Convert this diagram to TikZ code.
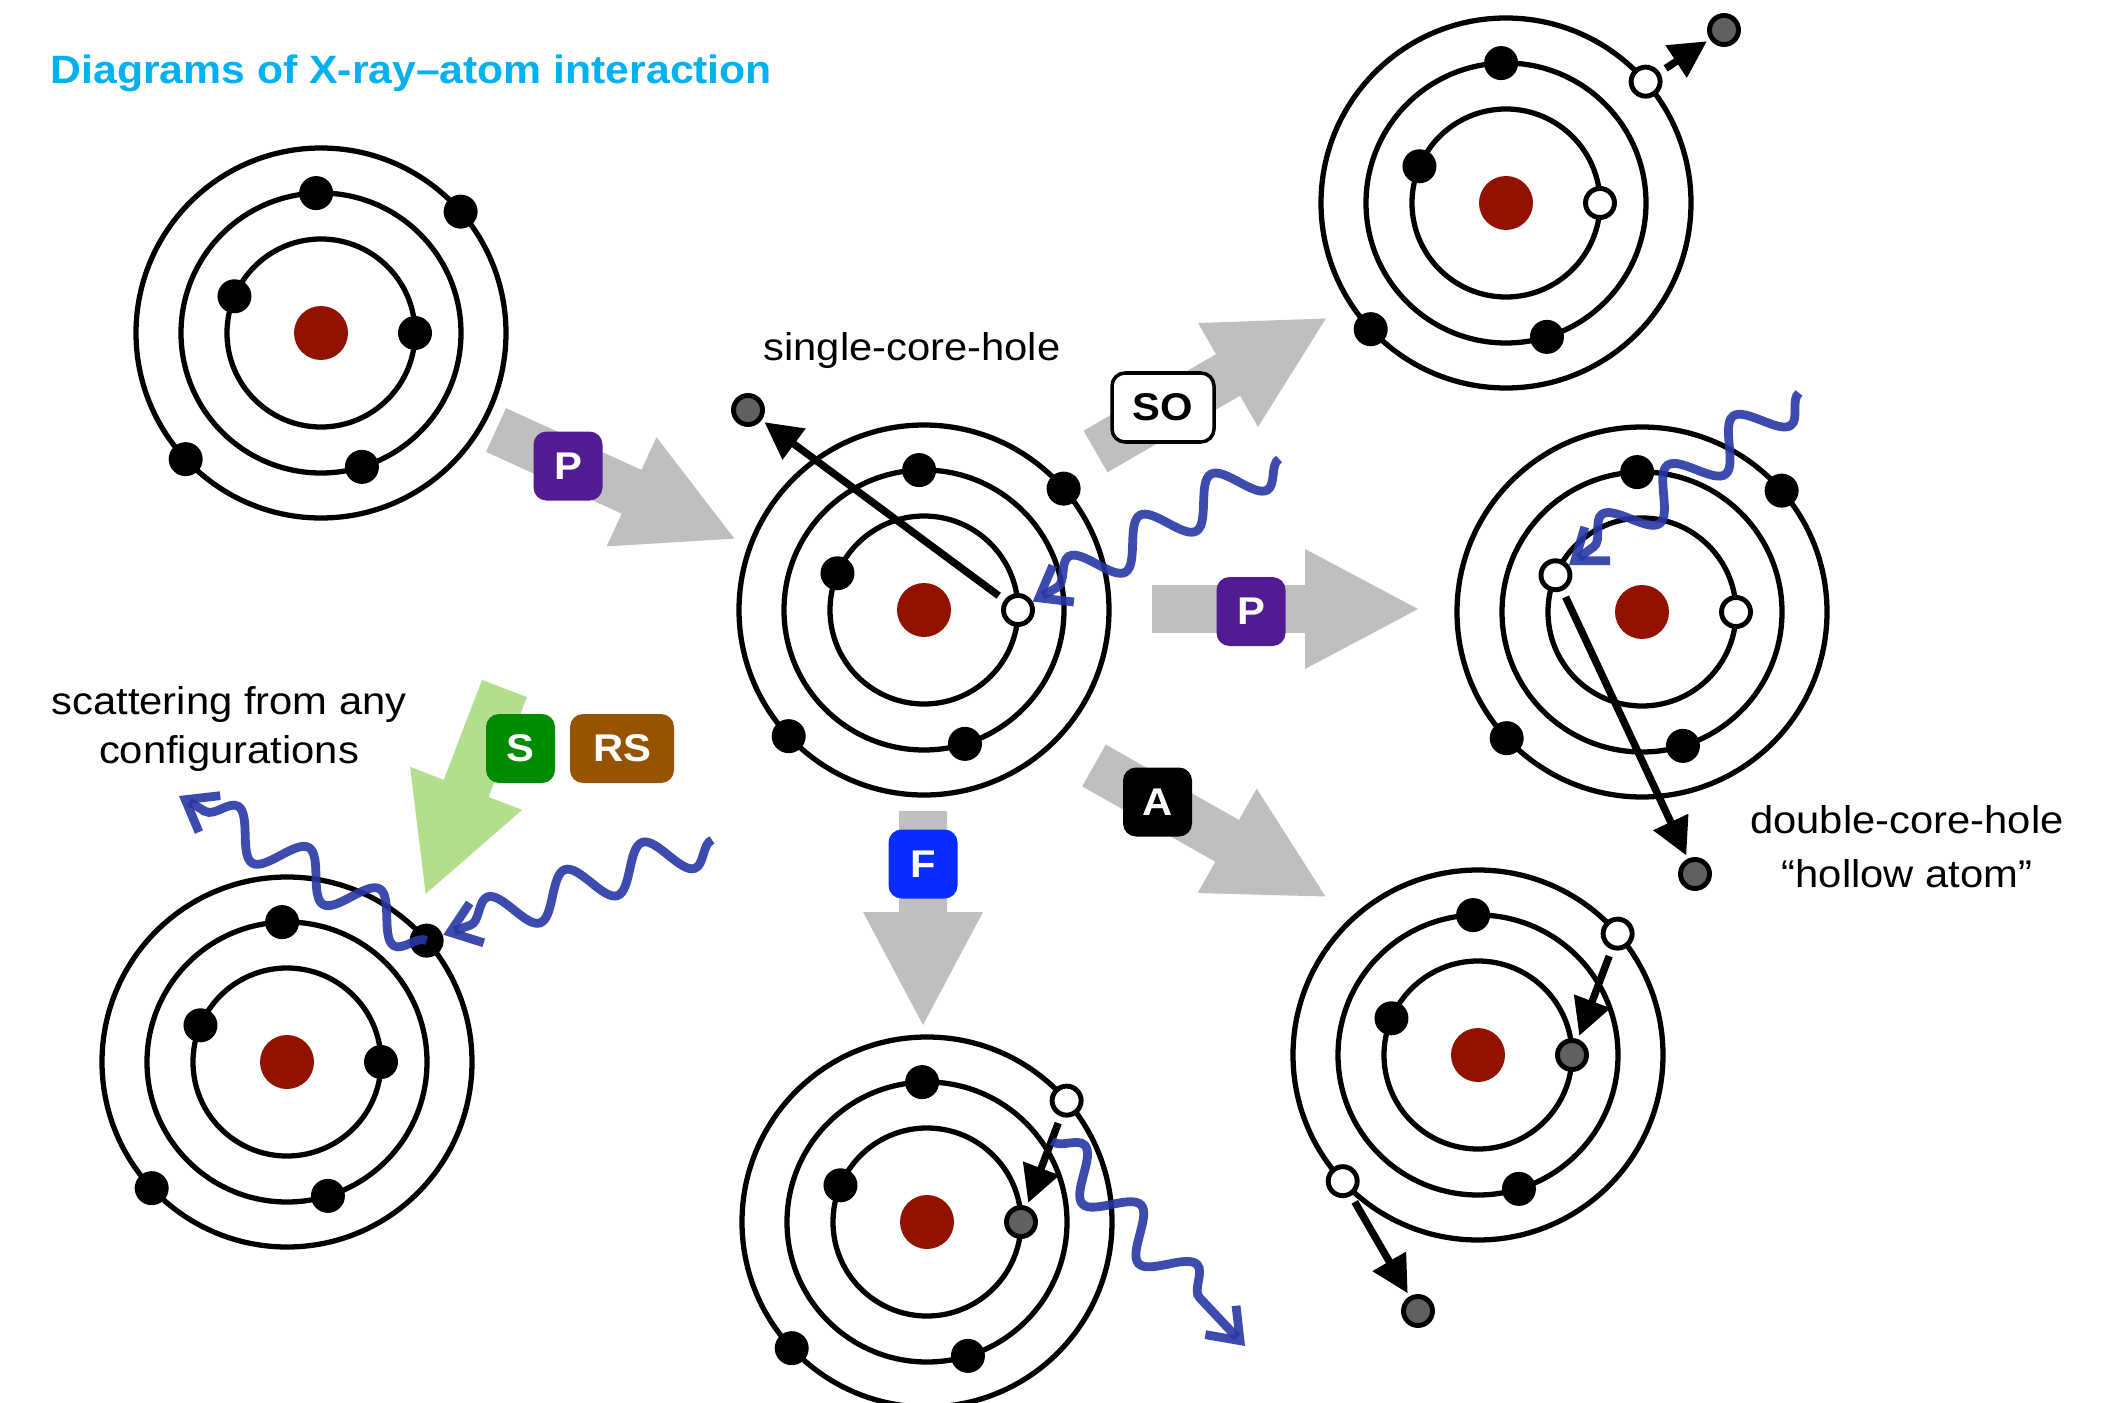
\documentclass[tikz,border=0pt]{standalone}
\usepackage{fontspec}
\setmainfont{Liberation Sans}[FakeStretch=1.08]
\usetikzlibrary{arrows.meta}
\usetikzlibrary{decorations.pathmorphing}
\definecolor{nucl}{RGB}{146,18,0}
\definecolor{photoncol}{RGB}{40,55,165}
\definecolor{titlecol}{RGB}{0,176,240}
\definecolor{arrgray}{RGB}{191,191,191}
\definecolor{arrgreen}{RGB}{178,222,142}
\definecolor{pcol}{RGB}{83,27,147}
\definecolor{fcol}{RGB}{8,44,255}
\definecolor{scol}{RGB}{0,140,0}
\definecolor{rscol}{RGB}{150,84,0}
\definecolor{elgray}{RGB}{96,96,96}
\def\picfont{\fontsize{11}{13.6}\selectfont}
% atom: name, centre, then the look of its six electrons
% (inner 0, inner 157, middle 92, middle -73, outer 41, outer -137)
\def\drawatom#1#2#3#4#5#6#7#8{%
 \begin{scope}[shift={#2}]
  \draw[orbit] (0,0) circle (0.94) (0,0) circle (1.40) (0,0) circle (1.85);
  \fill[nucleus] (0,0) circle (0.27);
  \node[#3] (#1-1) at (0:0.94) {};
  \node[#4] (#1-2) at (157:0.94) {};
  \node[#5] (#1-3) at (92:1.40) {};
  \node[#6] (#1-4) at (-73:1.40) {};
  \node[#7] (#1-5) at (41:1.85) {};
  \node[#8] (#1-6) at (-137:1.85) {};
 \end{scope}}
% block arrow: colour, start, angle, shaft length
\def\blockarrow#1#2#3#4{%
 \begin{scope}[shift={#2},rotate=#3]
  \fill[#1] (0,-0.24) -- (#4,-0.24) -- (#4,-0.60) -- (#4+1.13,0) -- (#4,0.60) -- (#4,0.24) -- (0,0.24) -- cycle;
 \end{scope}}
\tikzset{
	orbit/.style={line width=1.5pt},
	nucleus/.style={fill=nucl},
	elec/.style={circle,fill=black,inner sep=0pt,minimum size=3.4mm},
	hole/.style={circle,fill=white,draw=black,line width=1.4pt,inner sep=0pt,minimum size=2.9mm},
	grayel/.style={circle,fill=elgray,draw=black,line width=1.4pt,inner sep=0pt,minimum size=2.9mm},
	eject/.style={line width=2.1pt,-{Triangle[length=10.5pt,width=10.5pt]},shorten <=2pt,shorten >=1pt},
	photon/.style={photoncol,opacity=.9,line width=2.5pt,-{Straight Barb[length=8pt,width=12pt]},
		decorate,decoration={snake,amplitude=2.1mm,segment length=8.2mm,post length=2.5mm}},
	proc/.style={rounded corners=1.3mm,text=white,font=\picfont\bfseries,inner sep=0pt,
		minimum width=6.9mm,minimum height=6.9mm},
	labl/.style={align=center,font=\picfont},
}
\begin{document}
\begin{tikzpicture}
\useasboundingbox (0,0) rectangle (21.24,-14.03);

% process arrows
\blockarrow{arrgray}{(4.96,-4.30)}{-24.5}{1.49}
\blockarrow{arrgray}{(10.955,-4.515)}{30}{1.53}
\blockarrow{arrgray}{(11.52,-6.09)}{0}{1.53}
\blockarrow{arrgray}{(10.94,-7.655)}{-29.5}{1.53}
\blockarrow{arrgray}{(9.23,-8.11)}{-90}{1.01}
\blockarrow{arrgreen}{(5.045,-6.885)}{-111}{1.07}

% atoms
\drawatom{a}{(3.21,-3.33)}{elec}{elec}{elec}{elec}{elec}{elec}
\drawatom{b}{(9.24,-6.10)}{hole}{elec}{elec}{elec}{elec}{elec}
\drawatom{c}{(15.06,-2.03)}{hole}{elec}{elec}{elec}{hole}{elec}
\drawatom{d}{(16.42,-6.12)}{hole}{hole}{elec}{elec}{elec}{elec}
\drawatom{e}{(14.78,-10.55)}{grayel}{elec}{elec}{elec}{hole}{hole}
\drawatom{f}{(9.27,-12.22)}{grayel}{elec}{elec}{elec}{hole}{elec}
\drawatom{g}{(2.87,-10.62)}{elec}{elec}{elec}{elec}{elec}{elec}

% free electrons
\node[grayel] (b-out) at (7.48,-4.10) {};
\node[grayel] (c-out) at (17.24,-0.30) {};
\node[grayel] (d-out) at (16.95,-8.74) {};
\node[grayel] (e-out) at (14.18,-13.11) {};

\draw[eject] (b-1) -- (b-out);
\draw[eject] (c-5) -- (c-out);
\draw[eject] (d-2) -- (d-out);
\draw[eject] (e-5) -- (e-1);
\draw[eject] (e-6) -- (e-out);
\draw[eject] (f-5) -- (f-1);

% photons
\coordinate (b-in) at (12.79,-4.59);
\coordinate (d-in) at (17.99,-3.93);
\coordinate (f-em) at (10.52,-11.41);
\coordinate (f-end) at (12.45,-13.46);
\coordinate (g-in) at (7.12,-8.40);
\coordinate (g-end) at (1.79,-7.96);
\draw[photon] (b-in) -- (b-1);
\draw[photon] (d-in) -- (d-2);
\draw[photon] (f-em) -- (f-end);
\draw[photon] (g-in) -- (g-5);
\draw[photon] (g-5.center) -- (g-end);

% process labels
\node[proc,fill=pcol] (lab-p1) at (5.68,-4.66) {P};
\node[proc,fill=white,draw=black,line width=1pt,text=black,minimum width=10.2mm] (lab-so) at (11.63,-4.075) {SO};
\node[proc,fill=pcol] (lab-p2) at (12.51,-6.115) {P};
\node[proc,fill=black] (lab-a) at (11.575,-8.02) {A};
\node[proc,fill=fcol] (lab-f) at (9.23,-8.64) {F};
\node[proc,fill=scol] (lab-s) at (5.205,-7.485) {S};
\node[proc,fill=rscol,minimum width=10.4mm] (lab-rs) at (6.22,-7.485) {RS};

% texts
\node[anchor=base west,inner sep=0pt,text=titlecol,font=\fontsize{11.25}{13.6}\selectfont\bfseries] (title) at (0.50,-0.84) {Diagrams of X-ray--atom interaction};
\node[labl,anchor=base] (sch) at (9.12,-3.60) {single-core-hole};
\node[labl] (scat) at (2.29,-7.29) {scattering from any\\[0.6pt]configurations};
\node[labl] (dch) at (19.07,-8.465) {double-core-hole\\[1.8pt]“hollow atom”};
\end{tikzpicture}
\end{document}
